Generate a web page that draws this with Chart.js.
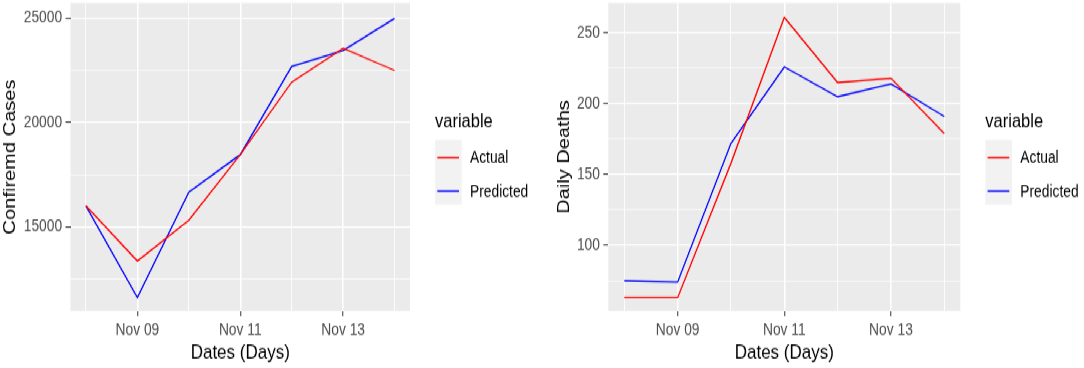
<!DOCTYPE html>
<html>
<head>
<meta charset="utf-8">
<script src="https://cdn.jsdelivr.net/npm/chart.js@4.4.0/dist/chart.umd.min.js"></script>
<style>
  html, body { margin: 0; padding: 0; background: #fff; overflow: hidden; }
  /* the reference figure is stretched vertically, so the whole stage is too */
  #stage { position: absolute; left: 0; top: 0; width: 1084px; height: 312px;
           transform: scaleY(1.17949); transform-origin: 0 0; }
  #cases  { position: absolute; left: 0; top: 0; }
  #deaths { position: absolute; left: 545px; top: 0; }
</style>
</head>
<body>
<div id="stage">
  <canvas id="cases" width="545" height="312"></canvas>
  <canvas id="deaths" width="539" height="312"></canvas>
</div>
<script>
// ---- data ----
const dates       = ['Nov 08', 'Nov 09', 'Nov 10', 'Nov 11', 'Nov 12', 'Nov 13', 'Nov 14'];
const dateLabels  = ['Nov 09', 'Nov 11', 'Nov 13'];
const seriesNames = ['Actual', 'Predicted'];
const seriesColors = ['#FF0000', '#0000FF'];

const casesActual    = [16020, 13380, 15330, 18470, 21940, 23560, 22500];
const casesPredicted = [16020, 11630, 16680, 18470, 22690, 23450, 24990];
const casesTicks     = [12500, 15000, 17500, 20000, 22500, 25000];
const casesLabels    = [15000, 20000, 25000];

const deathsActual    = [63, 63, 158, 261, 215, 218, 179];
const deathsPredicted = [75, 74, 172, 226, 205, 214, 191];
const deathsTicks     = [75, 100, 125, 150, 175, 200, 225, 250];
const deathsLabels    = [100, 150, 200, 250];

const FONT = '"Liberation Sans", Arial, sans-serif';
Chart.defaults.font.family = FONT;

// grey ggplot panel
const panelBg = {
  id: 'panelBg',
  beforeDraw(chart) {
    const { ctx, chartArea: a } = chart;
    ctx.save();
    ctx.fillStyle = '#EBEBEB';
    ctx.fillRect(a.left, a.top, a.right - a.left, a.bottom - a.top);
    ctx.restore();
  }
};

// ggplot style legend to the right of the panel
const ggLegend = {
  id: 'ggLegend',
  afterDraw(chart) {
    const { ctx, chartArea: a } = chart;
    const x0 = a.right + 25;
    const yc = (a.top + a.bottom) / 2;
    ctx.save();
    ctx.textBaseline = 'middle';
    ctx.textAlign = 'left';
    ctx.fillStyle = '#000';
    ctx.font = '16.5px ' + FONT;
    ctx.fillText('variable', x0, yc - 29.9);
    ctx.fillStyle = '#F2F2F2';
    ctx.fillRect(x0, yc - 14.5, 26.7, 55);
    chart.data.datasets.forEach((ds, i) => {
      const y = yc + 0.5 + i * 28.5;
      ctx.strokeStyle = ds.borderColor;
      ctx.lineWidth = 1.3;
      ctx.beginPath();
      ctx.moveTo(x0 + 2.3, y);
      ctx.lineTo(x0 + 24, y);
      ctx.stroke();
      ctx.fillStyle = '#000';
      ctx.font = '13.8px ' + FONT;
      ctx.fillText(ds.label, x0 + 35, y + 0.6);
    });
    ctx.restore();
  }
};

function makeChart(id, cfg) {
  const datasets = cfg.series.map((vals, i) => ({
    label: seriesNames[i],
    data: vals.map((v, j) => ({ x: j, y: v })),
    borderColor: seriesColors[i],
    borderWidth: 1.3,
    pointRadius: 0,
    tension: 0,
    fill: false
  }));

  return new Chart(document.getElementById(id), {
    type: 'line',
    data: { datasets },
    plugins: [panelBg, ggLegend],
    options: {
      responsive: false,
      animation: false,
      devicePixelRatio: 1,
      layout: { padding: { top: 2.5, right: cfg.padRight, bottom: 0, left: 0 } },
      plugins: { legend: { display: false }, tooltip: { enabled: false } },
      scales: {
        x: {
          type: 'linear',
          min: -0.3,
          max: dates.length - 0.7,
          afterBuildTicks: s => { s.ticks = dates.map((d, i) => ({ value: i })); },
          afterFit: s => { s.height = 48.3; s.paddingLeft = 0; s.paddingRight = 0; },
          border: { display: false },
          grid: {
            color: '#FFFFFF',
            lineWidth: c => dateLabels.includes(dates[c.tick.value]) ? 1.5 : 0.8,
            tickColor: c => dateLabels.includes(dates[c.tick.value]) ? '#333333' : 'rgba(0,0,0,0)',
            tickWidth: 1,
            tickLength: 4.2
          },
          ticks: {
            autoSkip: false,
            maxRotation: 0,
            padding: 3.8,
            color: '#4D4D4D',
            font: { size: 13.8 },
            callback: v => dateLabels.includes(dates[v]) ? dates[v] : ''
          },
          title: {
            display: true,
            text: 'Dates (Days)',
            color: '#000',
            font: { size: 17 },
            padding: { top: 0, bottom: 2.3 }
          }
        },
        y: {
          type: 'linear',
          min: cfg.yMin,
          max: cfg.yMax,
          afterBuildTicks: s => { s.ticks = cfg.yTicks.map(v => ({ value: v })); },
          afterFit: s => { s.width = cfg.yWidth; s.paddingTop = 0; s.paddingBottom = 0; },
          border: { display: false },
          grid: {
            color: '#FFFFFF',
            lineWidth: c => cfg.yLabels.includes(c.tick.value) ? 1.3 : 0.7,
            tickColor: c => cfg.yLabels.includes(c.tick.value) ? '#333333' : 'rgba(0,0,0,0)',
            tickWidth: 1,
            tickLength: 5
          },
          ticks: {
            padding: 3.4,
            color: '#4D4D4D',
            font: { size: 13.8 },
            callback: v => cfg.yLabels.includes(v) ? String(v) : ''
          },
          title: {
            display: true,
            text: cfg.yTitle,
            color: '#000',
            font: { size: 17 },
            padding: { top: cfg.yTitlePad, bottom: 0 }
          }
        }
      }
    }
  });
}

makeChart('cases', {
  series: [casesActual, casesPredicted],
  yTitle: 'Confiremd Cases',
  yMin: 10990, yMax: 25730,
  yTicks: casesTicks, yLabels: casesLabels,
  yWidth: 70.5, yTitlePad: 0, padRight: 135
});

makeChart('deaths', {
  series: [deathsActual, deathsPredicted],
  yTitle: 'Daily Deaths',
  yMin: 53.6, yMax: 271.2,
  yTicks: deathsTicks, yLabels: deathsLabels,
  yWidth: 63.3, yTitlePad: 9.3, padRight: 123.7
});
</script>
</body>
</html>
